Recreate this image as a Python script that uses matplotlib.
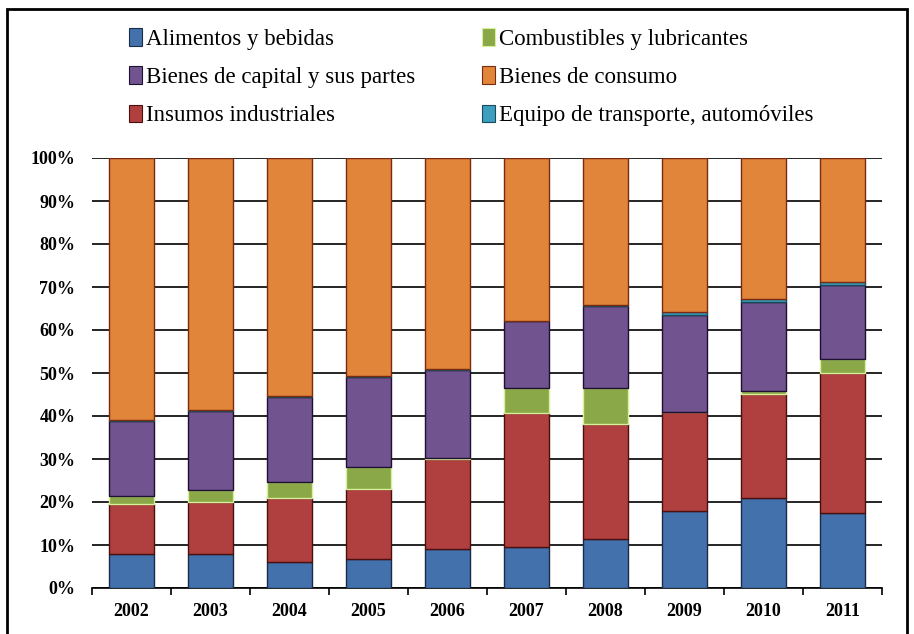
import matplotlib.pyplot as plt
from matplotlib.patches import Patch, Rectangle
from matplotlib.ticker import FixedLocator, PercentFormatter

# datos (% del total por año)
years = ['2002', '2003', '2004', '2005', '2006', '2007', '2008', '2009', '2010', '2011']
alimentos = [7.8, 7.8, 6.1, 6.8, 9.1, 9.5, 11.3, 17.9, 20.9, 17.5]
insumos = [11.8, 12.2, 14.9, 16.2, 21.0, 31.1, 26.9, 23.0, 24.2, 32.6]
combustibles = [1.9, 2.9, 3.7, 5.2, 0.2, 5.8, 8.2, 0.1, 0.6, 3.1]
capital = [17.3, 18.2, 19.7, 20.8, 20.4, 15.6, 19.1, 22.6, 20.8, 17.3]
transporte = [0.2, 0.2, 0.2, 0.2, 0.2, 0.2, 0.2, 0.5, 0.7, 0.7]
consumo = [61.0, 58.7, 55.4, 50.8, 49.1, 37.8, 34.3, 35.9, 32.8, 28.8]

series = [
    ('Alimentos y bebidas', alimentos, '#4271ab', '#1c2a4a'),
    ('Insumos industriales', insumos, '#b0403f', '#4a1010'),
    ('Combustibles y lubricantes', combustibles, '#8aa847', '#d9f09a'),
    ('Bienes de capital y sus partes', capital, '#71538f', '#1d1030'),
    ('Equipo de transporte, automóviles', transporte, '#3c9fc0', '#1a4a5a'),
    ('Bienes de consumo', consumo, '#e0853a', '#7a2a10'),
]

plt.rcParams['font.family'] = ['Liberation Serif', 'DejaVu Serif']

fig = plt.figure(figsize=(9.14, 6.34), dpi=100)
ax = fig.add_axes([92 / 914, 1 - 588 / 634, 790 / 914, 430 / 634])

x = range(len(years))
bottom = [0.0] * len(years)
handles = {}
for name, vals, color, edge in series:
    ax.bar(x, vals, width=0.56, bottom=bottom, color=color, edgecolor=edge,
           linewidth=1, zorder=3)
    bottom = [b + v for b, v in zip(bottom, vals)]
    handles[name] = Patch(facecolor=color, edgecolor=edge, linewidth=0.8)

ax.set_ylim(0, 100)
ax.set_xlim(-0.5, len(years) - 0.5)
ax.set_yticks(range(0, 101, 10))
ax.yaxis.set_major_formatter(PercentFormatter(decimals=0))
ax.grid(axis='y', color='black', linewidth=1.2, zorder=0)
ax.tick_params(axis='y', length=0, pad=12, labelsize=13)
ax.set_xticks(list(x))
ax.set_xticklabels(years)
ax.xaxis.set_minor_locator(FixedLocator([i - 0.5 for i in range(len(years) + 1)]))
ax.tick_params(axis='x', which='major', length=0, pad=11, labelsize=13)
ax.tick_params(axis='x', which='minor', length=5, width=1.2, direction='out')
for lab in ax.get_xticklabels() + ax.get_yticklabels():
    lab.set_fontweight('bold')
for s in ['left', 'right', 'top']:
    ax.spines[s].set_visible(False)
ax.spines['bottom'].set_linewidth(1.2)

order = ['Alimentos y bebidas', 'Bienes de capital y sus partes', 'Insumos industriales',
         'Combustibles y lubricantes', 'Bienes de consumo', 'Equipo de transporte, automóviles']
fig.legend([handles[n] for n in order], order, ncol=2, frameon=False,
           loc='upper left', bbox_to_anchor=(120 / 914, 1 - 19 / 634),
           fontsize=16.5, handlelength=0.55, handleheight=0.8, handletextpad=0.2,
           columnspacing=2.9, labelspacing=0.72, borderaxespad=0)

fig.patches.append(Rectangle((7 / 914, -0.05), 900 / 914, 1.05 - 9 / 634,
                             transform=fig.transFigure, fill=False,
                             edgecolor='black', linewidth=2))

fig.savefig('out.png', dpi=100)
